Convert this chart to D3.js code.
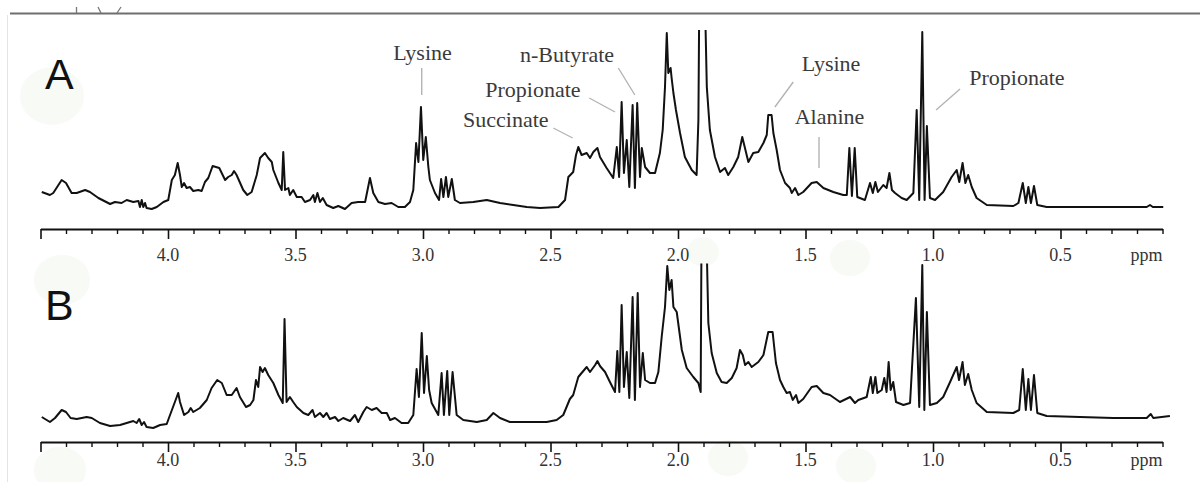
<!DOCTYPE html>
<html><head><meta charset="utf-8">
<script src="https://cdn.jsdelivr.net/npm/d3@7"></script>
<style>body{margin:0;background:#fff}svg{display:block}</style>
</head><body><svg id="c" width="1200" height="482"></svg>
<script>
// ---- data: [chemical shift (ppm), intensity (a.u.)] ----
const spectrumA = [[4.495,37],[4.463,34],[4.450,36],[4.417,49],[4.400,46],[4.378,36],[4.358,36],[4.325,39],[4.306,37],[4.273,31],[4.227,25],[4.208,27],[4.182,26],[4.162,29],[4.136,27],[4.116,28],[4.110,22],[4.103,29],[4.097,22],[4.090,26],[4.084,21],[4.064,20],[4.044,22],[4.018,27],[3.999,29],[3.985,49],[3.973,54],[3.962,66],[3.953,54],[3.946,42],[3.937,46],[3.927,41],[3.914,42],[3.901,38],[3.881,39],[3.868,38],[3.855,47],[3.842,51],[3.825,63],[3.812,62],[3.799,61],[3.776,49],[3.764,52],[3.750,54],[3.741,58],[3.731,54],[3.705,39],[3.689,34],[3.672,37],[3.652,54],[3.639,71],[3.620,76],[3.607,71],[3.593,67],[3.587,59],[3.567,46],[3.554,39],[3.548,77],[3.541,39],[3.528,41],[3.522,34],[3.509,39],[3.495,32],[3.476,32],[3.463,27],[3.443,29],[3.430,34],[3.424,27],[3.414,36],[3.404,27],[3.393,31],[3.378,24],[3.352,21],[3.332,23],[3.306,20],[3.280,26],[3.254,27],[3.227,27],[3.208,51],[3.195,36],[3.175,27],[3.149,25],[3.123,26],[3.097,22],[3.071,22],[3.051,27],[3.038,39],[3.027,86],[3.018,67],[3.008,122],[2.999,69],[2.989,92],[2.979,62],[2.973,49],[2.953,36],[2.937,29],[2.929,50],[2.920,32],[2.910,52],[2.901,32],[2.887,50],[2.875,29],[2.855,26],[2.803,27],[2.750,29],[2.698,26],[2.646,24],[2.593,22],[2.541,21],[2.469,22],[2.443,29],[2.430,52],[2.411,57],[2.400,74],[2.391,82],[2.378,74],[2.358,76],[2.345,71],[2.332,77],[2.316,81],[2.306,72],[2.280,61],[2.254,51],[2.240,82],[2.231,52],[2.221,127],[2.212,56],[2.201,89],[2.191,42],[2.178,124],[2.169,41],[2.160,126],[2.149,52],[2.142,81],[2.129,62],[2.110,56],[2.090,56],[2.071,76],[2.060,99],[2.051,142],[2.044,196],[2.038,156],[2.029,161],[2.025,151],[2.018,136],[2.008,119],[1.992,96],[1.973,72],[1.946,59],[1.927,54],[1.920,109],[1.916,250],[1.906,290],[1.896,250],[1.887,142],[1.875,99],[1.855,72],[1.835,57],[1.816,61],[1.803,54],[1.783,62],[1.764,72],[1.748,92],[1.724,67],[1.705,76],[1.685,77],[1.665,86],[1.652,94],[1.646,114],[1.633,114],[1.626,96],[1.613,79],[1.600,59],[1.580,46],[1.561,41],[1.554,36],[1.541,41],[1.528,34],[1.509,37],[1.476,46],[1.456,47],[1.430,41],[1.391,37],[1.352,34],[1.338,34],[1.328,81],[1.318,33],[1.307,81],[1.297,32],[1.267,29],[1.247,46],[1.236,36],[1.226,47],[1.216,37],[1.195,44],[1.182,41],[1.171,56],[1.161,39],[1.149,36],[1.123,31],[1.103,29],[1.077,36],[1.064,119],[1.054,29],[1.042,197],[1.033,29],[1.024,103],[1.012,31],[0.992,29],[0.960,37],[0.927,52],[0.907,59],[0.897,47],[0.884,66],[0.873,46],[0.862,54],[0.848,42],[0.829,31],[0.789,24],[0.685,23],[0.665,26],[0.648,46],[0.636,26],[0.626,42],[0.616,26],[0.604,43],[0.591,24],[0.554,22],[0.424,22],[0.293,22],[0.162,22],[0.149,24],[0.138,22],[0.097,22]];

const spectrumB = [[4.495,25],[4.463,20],[4.443,24],[4.417,32],[4.400,30],[4.382,24],[4.358,23],[4.319,25],[4.299,24],[4.267,19],[4.227,16],[4.188,17],[4.162,19],[4.136,21],[4.123,19],[4.113,23],[4.103,17],[4.094,20],[4.084,15],[4.058,14],[4.031,17],[4.005,18],[3.992,27],[3.973,40],[3.960,49],[3.953,40],[3.937,27],[3.920,30],[3.911,34],[3.901,30],[3.875,34],[3.848,42],[3.829,54],[3.807,62],[3.789,59],[3.770,47],[3.750,47],[3.731,54],[3.718,45],[3.694,35],[3.678,37],[3.665,42],[3.655,62],[3.646,55],[3.639,75],[3.629,70],[3.620,74],[3.607,67],[3.587,59],[3.567,47],[3.550,39],[3.543,123],[3.535,40],[3.522,45],[3.509,40],[3.495,35],[3.469,29],[3.450,27],[3.433,32],[3.424,25],[3.404,29],[3.391,25],[3.378,29],[3.365,23],[3.345,25],[3.332,21],[3.313,24],[3.286,21],[3.267,27],[3.254,20],[3.234,30],[3.221,35],[3.201,32],[3.182,34],[3.162,29],[3.142,29],[3.129,22],[3.110,24],[3.084,19],[3.058,19],[3.038,27],[3.025,73],[3.016,45],[3.005,109],[2.996,49],[2.985,86],[2.976,52],[2.966,39],[2.940,27],[2.927,69],[2.918,27],[2.905,71],[2.897,27],[2.884,70],[2.868,27],[2.842,22],[2.789,20],[2.750,22],[2.724,29],[2.698,24],[2.659,20],[2.593,20],[2.515,20],[2.476,22],[2.450,27],[2.424,43],[2.411,47],[2.391,65],[2.378,69],[2.358,75],[2.345,70],[2.325,77],[2.316,81],[2.306,76],[2.286,70],[2.267,60],[2.247,50],[2.238,91],[2.230,50],[2.221,137],[2.212,55],[2.201,90],[2.191,44],[2.178,145],[2.169,42],[2.158,149],[2.149,55],[2.138,89],[2.129,62],[2.110,59],[2.090,59],[2.077,70],[2.064,105],[2.051,135],[2.042,176],[2.034,152],[2.025,162],[2.018,135],[2.005,130],[1.985,92],[1.966,74],[1.940,65],[1.920,59],[1.911,50],[1.907,250],[1.900,290],[1.892,250],[1.881,119],[1.868,89],[1.848,69],[1.829,60],[1.809,59],[1.789,64],[1.770,74],[1.757,92],[1.746,87],[1.737,77],[1.724,80],[1.711,75],[1.685,80],[1.665,87],[1.646,110],[1.629,110],[1.616,79],[1.600,62],[1.587,55],[1.574,49],[1.561,50],[1.550,42],[1.537,47],[1.528,39],[1.509,43],[1.476,55],[1.456,56],[1.430,49],[1.404,47],[1.365,40],[1.325,45],[1.306,39],[1.293,42],[1.260,45],[1.244,65],[1.236,49],[1.226,65],[1.218,49],[1.201,52],[1.191,64],[1.182,50],[1.174,80],[1.166,52],[1.156,60],[1.145,40],[1.116,37],[1.090,39],[1.067,144],[1.054,35],[1.042,177],[1.034,32],[1.024,130],[1.012,37],[0.985,39],[0.960,45],[0.933,60],[0.907,75],[0.898,62],[0.884,80],[0.875,57],[0.862,68],[0.848,52],[0.829,39],[0.789,30],[0.685,29],[0.662,32],[0.648,73],[0.636,32],[0.626,63],[0.616,32],[0.604,67],[0.591,29],[0.554,26],[0.424,25],[0.293,24],[0.162,24],[0.146,28],[0.136,24],[0.071,26]];

const majorTicks = [4.0, 3.5, 3.0, 2.5, 2.0, 1.5, 1.0, 0.5];
const tickLabels = ["4.0", "3.5", "3.0", "2.5", "2.0", "1.5", "1.0", "0.5"];
const axisUnit = "ppm";
const panelNames = ["A", "B"];

// annotations (panel A): name, text anchor [ppm, intensity], leader from/to [ppm, intensity]
const annoNames = ["Lysine", "n-Butyrate", "Propionate", "Succinate", "Lysine", "Alanine", "Propionate"];
const annoText  = [[3.002,169],[2.435,167],[2.569,132.5],[2.675,102],[1.400,158],[1.406,105],[0.671,144]];
const annoFrom  = [[3.005,161],[2.234,161],[2.348,131],[2.489,101],[1.548,147],[1.447,92],[0.894,140]];
const annoTo    = [[3.005,134],[2.169,134],[2.247,117],[2.413,91],[1.620,122],[1.447,61],[0.988,119]];

// ---- drawing ----
const svg = d3.select("#c");
const W = 1200;
const x = d3.scaleLinear().domain([4.5, 0.1]).range([40.5, 1162.5]);
const panels = [
  {data: spectrumA, y: d3.scaleLinear().domain([0, 200]).range([229, 29]), axisY: 229, clipTop: 30, labY: 260.5, letterY: 89},
  {data: spectrumB, y: d3.scaleLinear().domain([0, 200]).range([442, 242]), axisY: 442, clipTop: 263.5, labY: 466, letterY: 320}
];

// very faint background smudges of the scanned source
const smudges = [[52,96,32],[62,280,28],[60,470,26],[850,258,20],[703,252,16],[728,458,20],[856,466,20]];
svg.append("g").selectAll("ellipse").data(smudges).join("ellipse")
  .attr("cx", d => d[0]).attr("cy", d => d[1]).attr("rx", d => d[2]).attr("ry", d => d[2] * 0.9)
  .attr("fill", "#f8faf6");

// frame remnants
svg.append("line").attr("x1", 10).attr("x2", W).attr("y1", 13.5).attr("y2", 13.5)
  .attr("stroke", "#6e6e6e").attr("stroke-width", 2);
svg.append("line").attr("x1", 7.5).attr("x2", 7.5).attr("y1", 15).attr("y2", 482)
  .attr("stroke", "#e4e4e4").attr("stroke-width", 1);
svg.append("path").attr("d", "M76.5,7V13M98,7L101,13M121,7L117,13")
  .attr("stroke", "#777").attr("stroke-width", 1.3).attr("fill", "none");

const defs = svg.append("defs");
const minorTicks = d3.range(44, 0, -1).map(d => d / 10).filter(v => Math.abs(v * 2 - Math.round(v * 2)) > 1e-6);

panels.forEach((p, i) => {
  defs.append("clipPath").attr("id", "clip" + i).append("rect")
    .attr("x", 0).attr("y", p.clipTop).attr("width", W).attr("height", p.axisY - p.clipTop);

  const line = d3.line().x(d => x(d[0])).y(d => p.y(d[1])).curve(d3.curveLinear);
  svg.append("path").datum(p.data).attr("d", line)
    .attr("clip-path", `url(#clip${i})`)
    .attr("fill", "none").attr("stroke", "#111").attr("stroke-width", 2)
    .attr("stroke-linejoin", "round");

  // major ticks (incl. left end)
  const gMaj = svg.append("g").attr("transform", `translate(0,${p.axisY})`)
    .call(d3.axisBottom(x).tickValues([4.5, ...majorTicks]).tickSize(10).tickSizeOuter(0).tickFormat(""));
  gMaj.select(".domain").attr("stroke", "#111").attr("stroke-width", 2);
  gMaj.selectAll(".tick line").attr("stroke", "#111").attr("stroke-width", 1.6);
  // minor ticks
  const gMin = svg.append("g").attr("transform", `translate(0,${p.axisY})`)
    .call(d3.axisBottom(x).tickValues(minorTicks).tickSize(5).tickSizeOuter(0).tickFormat(""));
  gMin.select(".domain").remove();
  gMin.selectAll(".tick line").attr("stroke", "#111").attr("stroke-width", 1.4);

  // tick labels
  svg.append("g").selectAll("text").data(majorTicks).join("text")
    .attr("x", d => x(d)).attr("y", p.labY)
    .attr("text-anchor", "middle")
    .attr("font-family", "'Liberation Serif','Times New Roman',serif").attr("font-size", 18)
    .attr("fill", "#333")
    .text((d, k) => tickLabels[k]);
  svg.append("text").attr("x", x(0.1)).attr("y", p.labY)
    .attr("text-anchor", "end")
    .attr("font-family", "'Liberation Serif','Times New Roman',serif").attr("font-size", 18)
    .attr("fill", "#333").text(axisUnit);

  // panel letter
  svg.append("text").attr("x", 45).attr("y", p.letterY)
    .attr("font-family", "'Liberation Sans',Arial,sans-serif").attr("font-size", 43)
    .attr("fill", "#111").text(panelNames[i]);
});

// annotations on panel A
const yA = panels[0].y;
const ann = svg.append("g");
ann.selectAll("line").data(annoNames).join("line")
  .attr("x1", (d, k) => x(annoFrom[k][0])).attr("y1", (d, k) => yA(annoFrom[k][1]))
  .attr("x2", (d, k) => x(annoTo[k][0])).attr("y2", (d, k) => yA(annoTo[k][1]))
  .attr("stroke", "#b4b4b4").attr("stroke-width", 1.4);
ann.selectAll("text").data(annoNames).join("text")
  .attr("x", (d, k) => x(annoText[k][0])).attr("y", (d, k) => yA(annoText[k][1]))
  .attr("text-anchor", "middle")
  .attr("font-family", "'Liberation Serif','Times New Roman',serif").attr("font-size", 22)
  .attr("fill", "#3a3a3a")
  .text(d => d);
</script>
</body></html>
